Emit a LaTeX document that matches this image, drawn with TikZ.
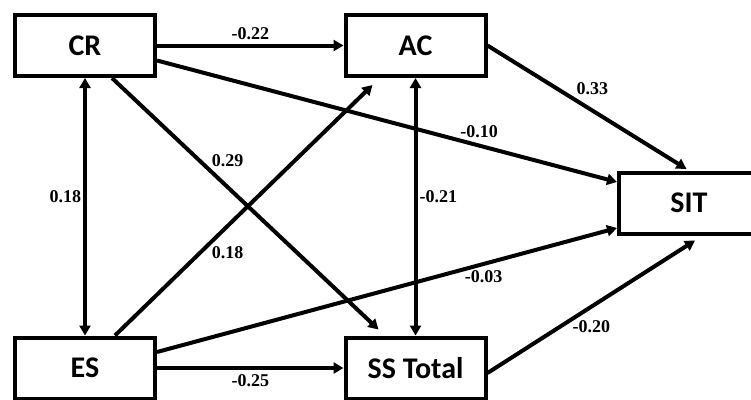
\documentclass[tikz,border=0pt]{standalone}
\usepackage{fontspec}
\setmainfont{Liberation Serif}
\newfontfamily\boxfont{Carlito}
\usetikzlibrary{arrows.meta}

\begin{document}
\begin{tikzpicture}[x=1pt,y=-1pt,
    box/.style={draw, line width=4pt, minimum width=140pt, minimum height=61pt, inner sep=0pt, font=\boxfont\bfseries\fontsize{30}{32}\selectfont},
    link/.style={line width=4pt, -{Triangle[length=10pt,width=11pt]}},
    both/.style={line width=4pt, {Triangle[length=10pt,width=11pt]}-{Triangle[length=10pt,width=11pt]}},
    coef/.style={font=\bfseries\fontsize{18}{20}\selectfont, inner sep=2pt}]
    \useasboundingbox (0,0) rectangle (751,399);

    \node[box] (cr) at (85,45.5) {CR};
    \node[box] (ac) at (415.5,45.5) {AC};
    \node[box] (sit) at (689,203) {SIT};
    \node[box] (es) at (85,368) {ES};
    \node[box] (ss) at (415.5,368) {SS Total};

    \draw[link] (cr.east) -- (ac.west) node[coef, midway, above=2pt]{-0.22};
    \draw[link] ([yshift=-15pt]cr.east) -- ([yshift=21pt]sit.west) node[coef, pos=0.7, above=4pt]{-0.10};
    \draw[link] ([xshift=27pt]cr.south) -- ([xshift=-37pt,yshift=6pt]ss.north) node[coef, pos=0.33, right=8pt]{0.29};
    \draw[both] (cr.south) -- (es.north) node[coef, pos=0.46, left=0pt]{0.18};
    \draw[link] ([xshift=30pt]es.north) -- ([xshift=-43pt,yshift=-7pt]ac.south) node[coef, pos=0.33, right=8pt]{0.18};
    \draw[link] ([yshift=16pt]es.east) -- ([yshift=-25pt]sit.west) node[coef, pos=0.71, below=3pt]{-0.03};
    \draw[link] (es.east) -- (ss.west) node[coef, midway, below=3pt]{-0.25};
    \draw[both] (ac.south) -- (ss.north) node[coef, pos=0.46, right=0pt]{-0.21};
    \draw[link, shorten >=3pt] (ac.east) -- (sit.north) node[coef, pos=0.52, above=12pt]{0.33};
    \draw[link] ([yshift=-5pt]ss.east) -- ([xshift=6pt,yshift=-5pt]sit.south) node[coef, pos=0.5, below=10pt]{-0.20};
\end{tikzpicture}
\end{document}
